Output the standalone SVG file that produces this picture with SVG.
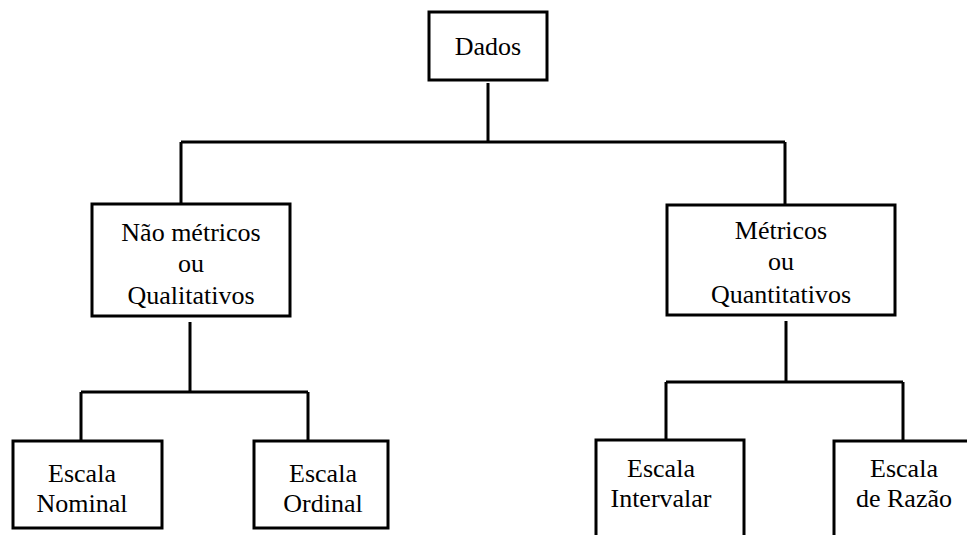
<svg xmlns="http://www.w3.org/2000/svg" width="967" height="535" viewBox="0 0 967 535">
  <style>
    .box { fill: #ffffff; stroke: #000000; stroke-width: 3; }
    .wire { fill: none; stroke: #000000; stroke-width: 3; }
    .lbl { font-family: "Liberation Serif", "Times New Roman", serif; font-size: 26px; fill: #000000; text-anchor: middle; }
  </style>
  <rect width="967" height="535" fill="#ffffff"/>

  <!-- connectors -->
  <g id="connectors">
    <path class="wire" d="M488 83 V142 M181 142 H785 M181 142 V204 M785 142 V205"/>
    <path class="wire" d="M190 322 V392 M81 392 H308 M81 392 V441 M308 392 V441"/>
    <path class="wire" d="M786 321 V382 M666 382 H903 M666 382 V440 M903 382 V440"/>
  </g>

  <!-- root -->
  <g id="dados">
    <rect class="box" x="429" y="12" width="118" height="68"/>
    <text class="lbl" x="488" y="55">Dados</text>
  </g>

  <!-- level 1 -->
  <g id="nao-metricos">
    <rect class="box" x="92" y="204" width="198" height="112"/>
    <text class="lbl" x="191" y="241">Não métricos</text>
    <text class="lbl" x="191" y="272">ou</text>
    <text class="lbl" x="191" y="304">Qualitativos</text>
  </g>
  <g id="metricos">
    <rect class="box" x="667" y="205" width="228" height="110"/>
    <text class="lbl" x="781" y="239">Métricos</text>
    <text class="lbl" x="781" y="270">ou</text>
    <text class="lbl" x="781" y="303">Quantitativos</text>
  </g>

  <!-- level 2 -->
  <g id="nominal">
    <rect class="box" x="13" y="441" width="149" height="87"/>
    <text class="lbl" x="82" y="482">Escala</text>
    <text class="lbl" x="82" y="512">Nominal</text>
  </g>
  <g id="ordinal">
    <rect class="box" x="254" y="441" width="134" height="87"/>
    <text class="lbl" x="323" y="482">Escala</text>
    <text class="lbl" x="323" y="512">Ordinal</text>
  </g>
  <g id="intervalar">
    <rect class="box" x="596" y="440" width="148" height="110"/>
    <text class="lbl" x="661" y="477">Escala</text>
    <text class="lbl" x="661" y="507">Intervalar</text>
  </g>
  <g id="razao">
    <rect class="box" x="834" y="441" width="150" height="110"/>
    <text class="lbl" x="904" y="477">Escala</text>
    <text class="lbl" x="904" y="507">de Razão</text>
  </g>
</svg>
